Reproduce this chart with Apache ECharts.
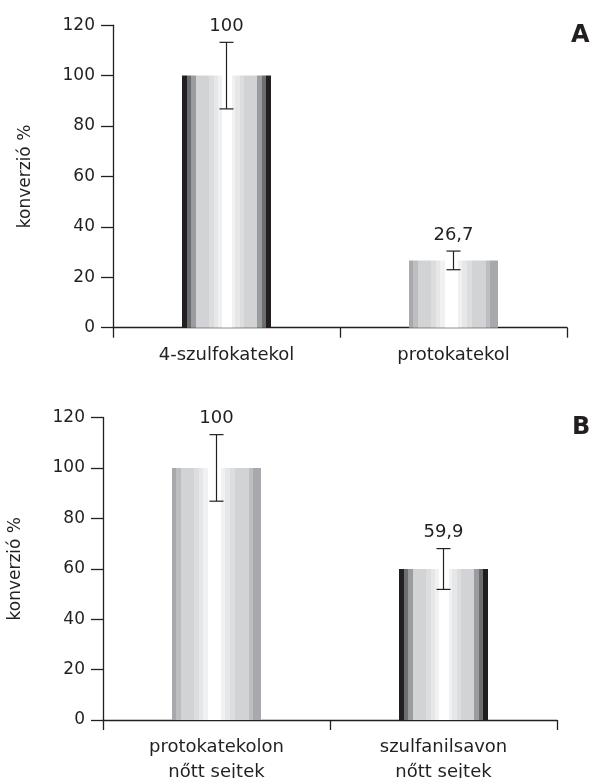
<!DOCTYPE html>
<html><head><meta charset="utf-8">
<script src="https://cdn.jsdelivr.net/npm/echarts@6/dist/echarts.min.js"></script>
<style>html,body{margin:0;padding:0;background:#fff}#c{width:594px;height:778px}</style>
</head><body><div id="c"></div>
<script>
// ---- data ----
const categoriesA = ['4-szulfokatekol', 'protokatekol'];
const valuesA = [100, 26.7];
const errorsA = [13.2, 3.7];
const categoriesB = ['protokatekolon\nnőtt sejtek', 'szulfanilsavon\nnőtt sejtek'];
const valuesB = [100, 59.9];
const errorsB = [13.2, 8.1];
const yTickLabels = ['0', '20', '40', '60', '80', '100', '120'];
const yAxisName = 'konverzió %';
const panelLetters = ['A', 'B'];

// ---- styles ----
const INK = '#231f20';
const FONT = 'DejaVu Sans';
const darkBands = [[0.055,'#231f20'],[0.10,'#6d6e71'],[0.155,'#9a9c9f'],[0.30,'#d1d3d4'],[0.355,'#dcdddf'],[0.40,'#e6e7e8'],[0.45,'#f1f1f2'],[0.56,'#ffffff'],[0.60,'#f1f1f2'],[0.65,'#e6e7e8'],[0.70,'#dcdddf'],[0.845,'#d1d3d4'],[0.90,'#9a9c9f'],[0.945,'#6d6e71'],[1,'#231f20']];
const lightBands = [[0.05,'#a7a9ac'],[0.10,'#bcbec0'],[0.245,'#d1d3d4'],[0.30,'#dcdddf'],[0.35,'#e6e7e8'],[0.40,'#f1f1f2'],[0.55,'#ffffff'],[0.60,'#f1f1f2'],[0.655,'#e6e7e8'],[0.705,'#dcdddf'],[0.86,'#d1d3d4'],[0.91,'#bcbec0'],[1,'#a7a9ac']];
const barBandsA = [darkBands, lightBands];
const barBandsB = [lightBands, darkBands];

function bandGradient(bands) {
  const stops = [];
  let start = 0;
  bands.forEach(([end, color]) => {
    stops.push({offset: start, color: color});
    stops.push({offset: end, color: color});
    start = end;
  });
  return new echarts.graphic.LinearGradient(0, 0, 1, 0, stops);
}
function fmt(v) { return String(v).replace('.', ','); }

const grids = [
  {left: 113, top: 25.2, width: 454, height: 302.5, outerBoundsMode: 'none', containLabel: false},
  {left: 103, top: 417.5, width: 454, height: 302.5, outerBoundsMode: 'none', containLabel: false}
];

function xAxis(idx, cats) {
  return {
    type: 'category', gridIndex: idx, data: cats, boundaryGap: true,
    axisLine: {lineStyle: {color: INK, width: 1.3}},
    axisTick: {show: true, length: 10, lineStyle: {color: INK, width: 1.3}},
    axisLabel: {color: INK, fontFamily: FONT, fontSize: 18, lineHeight: 25, margin: 15}
  };
}
function yAxis(idx) {
  return {
    type: 'value', gridIndex: idx, min: 0, max: 120, interval: 20,
    name: yAxisName, nameLocation: 'middle', nameRotate: 90, nameGap: 79,
    nameTextStyle: {color: INK, fontFamily: FONT, fontSize: 17},
    splitLine: {show: false},
    axisLine: {show: true, lineStyle: {color: INK, width: 1.3}},
    axisTick: {show: true, length: 12, lineStyle: {color: INK, width: 1.3}},
    axisLabel: {color: INK, fontFamily: FONT, fontSize: 17, margin: 18,
      formatter: (v) => yTickLabels[Math.round(v / 20)]}
  };
}
function barSeries(idx, vals, bands) {
  return {
    type: 'bar', xAxisIndex: idx, yAxisIndex: idx, barWidth: 89, silent: true,
    data: vals.map((v, i) => ({value: v, itemStyle: {color: bandGradient(bands[i])}}))
  };
}
function errSeries(idx, vals, errs) {
  return {
    type: 'custom', xAxisIndex: idx, yAxisIndex: idx, silent: true, z: 5,
    data: vals.map((v, i) => [i, v, errs[i]]),
    renderItem: function (params, api) {
      const i = api.value(0), v = api.value(1), e = api.value(2);
      const top = api.coord([i, v + e]);
      const bot = api.coord([i, v - e]);
      const x = top[0], hw = 7;
      const ls = {stroke: INK, lineWidth: 1.2};
      return {type: 'group', children: [
        {type: 'line', shape: {x1: x, y1: top[1], x2: x, y2: bot[1]}, style: ls},
        {type: 'line', shape: {x1: x - hw, y1: top[1], x2: x + hw, y2: top[1]}, style: ls},
        {type: 'line', shape: {x1: x - hw, y1: bot[1], x2: x + hw, y2: bot[1]}, style: ls},
        {type: 'text', style: {text: fmt(v), x: x, y: top[1] - 7, align: 'center', verticalAlign: 'bottom',
          fontFamily: FONT, fontSize: 18, fill: INK}}
      ]};
    }
  };
}

const chart = echarts.init(document.getElementById('c'), null, {renderer: 'canvas'});
chart.setOption({
  animation: false,
  backgroundColor: '#ffffff',
  grid: grids,
  xAxis: [xAxis(0, categoriesA), xAxis(1, categoriesB)],
  yAxis: [yAxis(0), yAxis(1)],
  graphic: [
    {type: 'text', left: 571, top: 24, style: {text: panelLetters[0], fontFamily: FONT, fontWeight: 'bold', fontSize: 24, fill: INK}},
    {type: 'text', left: 572, top: 416, style: {text: panelLetters[1], fontFamily: FONT, fontWeight: 'bold', fontSize: 24, fill: INK}}
  ],
  series: [
    barSeries(0, valuesA, barBandsA),
    errSeries(0, valuesA, errorsA),
    barSeries(1, valuesB, barBandsB),
    errSeries(1, valuesB, errorsB)
  ]
});
</script></body></html>
